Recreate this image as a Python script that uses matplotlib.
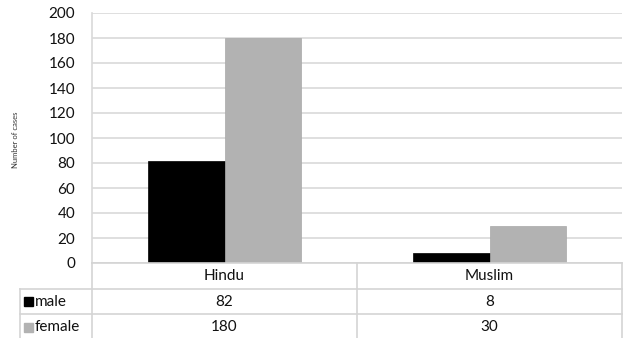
import numpy as np
import matplotlib
matplotlib.use("Agg")
import matplotlib.pyplot as plt
from matplotlib.patches import Rectangle

plt.rcParams["font.family"] = ["Lato", "DejaVu Sans"]

# dane do wykresu
kategorie = ["Hindu", "Muslim"]
serie = ["male", "female"]
male = [82, 8]
female = [180, 30]
kolory = ["#000000", "#b2b2b2"]
y_ticks = list(range(0, 201, 20))

W, H = 626, 338
fig = plt.figure(figsize=(W / 100, H / 100), dpi=100)
txt = "#111111"

# obszar wykresu (w pikselach)
left, right, top, bottom = 92, 622, 13, 263
ax = fig.add_axes([left / W, (H - bottom) / H, (right - left) / W, (bottom - top) / H])

x = np.arange(len(kategorie))
szer = 0.29
ax.bar(x - szer / 2, male, szer, color=kolory[0], edgecolor=kolory[0], linewidth=0.5, zorder=3)
ax.bar(x + szer / 2, female, szer, color=kolory[1], edgecolor="#a8a8a8", linewidth=0.5, zorder=3)

ax.set_xlim(-0.5, 1.5)
ax.set_ylim(0, 200)
ax.set_yticks(y_ticks)
ax.set_yticklabels([str(v) for v in y_ticks], fontsize=11, color=txt)
ax.tick_params(axis="y", length=0, pad=12)
ax.set_xticks([])
ax.grid(axis="y", color="#d9d9d9", linewidth=1.2, zorder=0)
for s in ["top", "right", "bottom"]:
    ax.spines[s].set_visible(False)
ax.spines["left"].set_color("#d9d9d9")
ax.spines["left"].set_linewidth(1.2)

fig.text(15 / W, (H - 140) / H, "Number of cases", rotation=90, fontsize=5.5,
         ha="center", va="center", color="#333333")

# tabela danych pod wykresem
tab = fig.add_axes([0, 0, 1, 1])
tab.set_xlim(0, W)
tab.set_ylim(H, 0)
tab.axis("off")

lc = "#d4d4d4"
lw = 1.2
legend_left = 20
row_h = [263, 289, 314, 340]
cat_w = (right - left) / len(kategorie)

# linie poziome
tab.plot([left, right], [row_h[0], row_h[0]], color=lc, lw=lw)
for yy in row_h[1:3]:
    tab.plot([legend_left, right], [yy, yy], color=lc, lw=lw)
# linie pionowe
tab.plot([left, left], [row_h[0], row_h[3]], color=lc, lw=lw)
tab.plot([legend_left, legend_left], [row_h[1], row_h[3]], color=lc, lw=lw)
tab.plot([left + cat_w, left + cat_w], [row_h[0], row_h[3]], color=lc, lw=lw)
tab.plot([right, right], [row_h[0], row_h[3]], color=lc, lw=lw)

# nagłówki kategorii
for i, k in enumerate(kategorie):
    tab.text(left + cat_w * (i + 0.5), (row_h[0] + row_h[1]) / 2, k,
             ha="center", va="center", fontsize=11, color=txt)

# wiersze z wartościami
wartosci = [male, female]
for r, (nazwa, vals, kol) in enumerate(zip(serie, wartosci, kolory)):
    yc = (row_h[r + 1] + row_h[r + 2]) / 2
    tab.add_patch(Rectangle((legend_left + 4, yc - 4.5), 9, 9, color=kol))
    tab.text(legend_left + 15, yc, nazwa, ha="left", va="center", fontsize=11, color=txt)
    for i, v in enumerate(vals):
        tab.text(left + cat_w * (i + 0.5), yc, str(v), ha="center", va="center",
                 fontsize=11, color=txt)

fig.savefig("out.png", dpi=100)
